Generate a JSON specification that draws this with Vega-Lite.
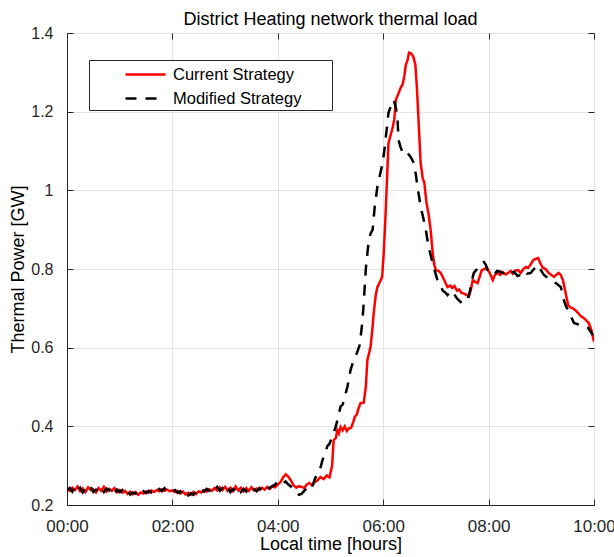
{
  "$schema": "https://vega.github.io/schema/vega-lite/v6.json",
  "autosize": "none",
  "padding": {"left": 67, "top": 33, "right": 20, "bottom": 52},
  "width": 527,
  "height": 472,
  "background": "white",
  "config": {
    "view": {"stroke": "#262626", "strokeWidth": 1},
    "font": "Liberation Sans",
    "axis": {"labelFont": "Liberation Sans", "titleFont": "Liberation Sans", "labelColor": "#262626", "titleColor": "#000000", "titleFontWeight": "normal", "domainColor": "#262626", "tickColor": "#262626", "gridColor": "#e3e3e3", "gridWidth": 1}
  },
  "title": {"text": "District Heating network thermal load", "fontSize": 18, "font": "Liberation Sans", "fontWeight": "normal", "color": "#000000", "anchor": "middle", "offset": -4},
  "datasets": {
    "d": [
      {"t":0.00,"s":"c","v":0.240},{"t":0.05,"s":"c","v":0.236},{"t":0.10,"s":"c","v":0.244},{"t":0.15,"s":"c","v":0.238},{"t":0.20,"s":"c","v":0.247},{"t":0.25,"s":"c","v":0.235},{"t":0.30,"s":"c","v":0.242},{"t":0.35,"s":"c","v":0.233},{"t":0.40,"s":"c","v":0.245},{"t":0.45,"s":"c","v":0.238},
      {"t":0.50,"s":"c","v":0.240},{"t":0.55,"s":"c","v":0.232},{"t":0.60,"s":"c","v":0.243},{"t":0.65,"s":"c","v":0.236},{"t":0.70,"s":"c","v":0.246},{"t":0.75,"s":"c","v":0.234},{"t":0.80,"s":"c","v":0.241},{"t":0.85,"s":"c","v":0.236},{"t":0.90,"s":"c","v":0.243},{"t":0.95,"s":"c","v":0.232},
      {"t":1.00,"s":"c","v":0.238},{"t":1.05,"s":"c","v":0.231},{"t":1.10,"s":"c","v":0.236},{"t":1.15,"s":"c","v":0.228},{"t":1.20,"s":"c","v":0.234},{"t":1.25,"s":"c","v":0.227},{"t":1.30,"s":"c","v":0.233},{"t":1.35,"s":"c","v":0.226},{"t":1.40,"s":"c","v":0.232},{"t":1.45,"s":"c","v":0.229},
      {"t":1.50,"s":"c","v":0.235},{"t":1.55,"s":"c","v":0.231},{"t":1.60,"s":"c","v":0.237},{"t":1.65,"s":"c","v":0.233},{"t":1.70,"s":"c","v":0.238},{"t":1.75,"s":"c","v":0.235},{"t":1.80,"s":"c","v":0.240},{"t":1.85,"s":"c","v":0.236},{"t":1.90,"s":"c","v":0.239},{"t":1.95,"s":"c","v":0.235},
      {"t":2.00,"s":"c","v":0.237},{"t":2.05,"s":"c","v":0.233},{"t":2.10,"s":"c","v":0.236},{"t":2.15,"s":"c","v":0.229},{"t":2.20,"s":"c","v":0.234},{"t":2.25,"s":"c","v":0.227},{"t":2.30,"s":"c","v":0.231},{"t":2.35,"s":"c","v":0.226},{"t":2.40,"s":"c","v":0.233},{"t":2.45,"s":"c","v":0.228},
      {"t":2.50,"s":"c","v":0.235},{"t":2.55,"s":"c","v":0.232},{"t":2.60,"s":"c","v":0.238},{"t":2.65,"s":"c","v":0.234},{"t":2.70,"s":"c","v":0.240},{"t":2.75,"s":"c","v":0.236},{"t":2.80,"s":"c","v":0.243},{"t":2.85,"s":"c","v":0.237},{"t":2.90,"s":"c","v":0.245},{"t":2.95,"s":"c","v":0.238},
      {"t":3.00,"s":"c","v":0.246},{"t":3.05,"s":"c","v":0.236},{"t":3.10,"s":"c","v":0.244},{"t":3.15,"s":"c","v":0.235},{"t":3.20,"s":"c","v":0.247},{"t":3.25,"s":"c","v":0.237},{"t":3.30,"s":"c","v":0.244},{"t":3.35,"s":"c","v":0.235},{"t":3.40,"s":"c","v":0.243},{"t":3.45,"s":"c","v":0.236},
      {"t":3.50,"s":"c","v":0.245},{"t":3.55,"s":"c","v":0.237},{"t":3.60,"s":"c","v":0.242},{"t":3.65,"s":"c","v":0.238},{"t":3.70,"s":"c","v":0.244},{"t":3.75,"s":"c","v":0.239},{"t":3.80,"s":"c","v":0.246},{"t":3.85,"s":"c","v":0.241},{"t":3.90,"s":"c","v":0.248},{"t":3.95,"s":"c","v":0.245},
      {"t":4.00,"s":"c","v":0.252},{"t":4.05,"s":"c","v":0.258},{"t":4.10,"s":"c","v":0.270},{"t":4.15,"s":"c","v":0.278},{"t":4.20,"s":"c","v":0.272},{"t":4.25,"s":"c","v":0.262},{"t":4.30,"s":"c","v":0.250},{"t":4.35,"s":"c","v":0.244},{"t":4.40,"s":"c","v":0.248},
      {"t":4.45,"s":"c","v":0.246},{"t":4.50,"s":"c","v":0.243},{"t":4.55,"s":"c","v":0.252},{"t":4.60,"s":"c","v":0.256},{"t":4.65,"s":"c","v":0.250},{"t":4.70,"s":"c","v":0.258},{"t":4.75,"s":"c","v":0.262},{"t":4.81,"s":"c","v":0.271},{"t":4.87,"s":"c","v":0.266},{"t":4.93,"s":"c","v":0.275},
      {"t":4.98,"s":"c","v":0.270},{"t":5.03,"s":"c","v":0.300},{"t":5.06,"s":"c","v":0.365},{"t":5.10,"s":"c","v":0.370},{"t":5.13,"s":"c","v":0.390},{"t":5.16,"s":"c","v":0.382},{"t":5.19,"s":"c","v":0.398},{"t":5.23,"s":"c","v":0.390},{"t":5.27,"s":"c","v":0.400},{"t":5.31,"s":"c","v":0.388},
      {"t":5.35,"s":"c","v":0.395},{"t":5.39,"s":"c","v":0.396},{"t":5.43,"s":"c","v":0.410},{"t":5.46,"s":"c","v":0.424},{"t":5.50,"s":"c","v":0.430},{"t":5.53,"s":"c","v":0.445},{"t":5.57,"s":"c","v":0.459},{"t":5.63,"s":"c","v":0.460},{"t":5.67,"s":"c","v":0.500},{"t":5.70,"s":"c","v":0.569},
      {"t":5.73,"s":"c","v":0.585},{"t":5.76,"s":"c","v":0.602},{"t":5.79,"s":"c","v":0.640},{"t":5.82,"s":"c","v":0.688},{"t":5.86,"s":"c","v":0.735},{"t":5.89,"s":"c","v":0.754},{"t":5.94,"s":"c","v":0.768},{"t":5.98,"s":"c","v":0.780},{"t":6.01,"s":"c","v":0.840},{"t":6.04,"s":"c","v":0.925},
      {"t":6.07,"s":"c","v":1.020},{"t":6.10,"s":"c","v":1.120},{"t":6.14,"s":"c","v":1.140},{"t":6.18,"s":"c","v":1.160},{"t":6.21,"s":"c","v":1.180},{"t":6.24,"s":"c","v":1.230},{"t":6.27,"s":"c","v":1.240},{"t":6.30,"s":"c","v":1.250},{"t":6.33,"s":"c","v":1.260},{"t":6.37,"s":"c","v":1.270},
      {"t":6.40,"s":"c","v":1.290},{"t":6.43,"s":"c","v":1.320},{"t":6.46,"s":"c","v":1.330},{"t":6.49,"s":"c","v":1.350},{"t":6.53,"s":"c","v":1.348},{"t":6.57,"s":"c","v":1.340},{"t":6.61,"s":"c","v":1.320},{"t":6.64,"s":"c","v":1.260},{"t":6.67,"s":"c","v":1.180},{"t":6.71,"s":"c","v":1.070},
      {"t":6.75,"s":"c","v":1.030},{"t":6.78,"s":"c","v":1.020},{"t":6.82,"s":"c","v":0.970},{"t":6.86,"s":"c","v":0.940},{"t":6.90,"s":"c","v":0.900},{"t":6.94,"s":"c","v":0.840},{"t":6.97,"s":"c","v":0.810},{"t":7.00,"s":"c","v":0.797},{"t":7.05,"s":"c","v":0.795},{"t":7.09,"s":"c","v":0.790},
      {"t":7.13,"s":"c","v":0.780},{"t":7.18,"s":"c","v":0.765},{"t":7.22,"s":"c","v":0.754},{"t":7.27,"s":"c","v":0.758},{"t":7.31,"s":"c","v":0.752},{"t":7.35,"s":"c","v":0.757},{"t":7.40,"s":"c","v":0.745},{"t":7.44,"s":"c","v":0.748},{"t":7.48,"s":"c","v":0.740},{"t":7.52,"s":"c","v":0.738},
      {"t":7.57,"s":"c","v":0.735},{"t":7.62,"s":"c","v":0.730},{"t":7.66,"s":"c","v":0.745},{"t":7.70,"s":"c","v":0.772},{"t":7.74,"s":"c","v":0.768},{"t":7.79,"s":"c","v":0.764},{"t":7.83,"s":"c","v":0.780},{"t":7.87,"s":"c","v":0.797},{"t":7.92,"s":"c","v":0.800},{"t":7.97,"s":"c","v":0.803},
      {"t":8.02,"s":"c","v":0.790},{"t":8.08,"s":"c","v":0.772},{"t":8.12,"s":"c","v":0.785},{"t":8.17,"s":"c","v":0.790},{"t":8.22,"s":"c","v":0.785},{"t":8.27,"s":"c","v":0.792},{"t":8.32,"s":"c","v":0.786},{"t":8.37,"s":"c","v":0.790},{"t":8.42,"s":"c","v":0.795},{"t":8.46,"s":"c","v":0.788},
      {"t":8.51,"s":"c","v":0.796},{"t":8.56,"s":"c","v":0.797},{"t":8.61,"s":"c","v":0.790},{"t":8.66,"s":"c","v":0.800},{"t":8.71,"s":"c","v":0.805},{"t":8.75,"s":"c","v":0.803},{"t":8.80,"s":"c","v":0.812},{"t":8.85,"s":"c","v":0.823},{"t":8.90,"s":"c","v":0.826},{"t":8.94,"s":"c","v":0.828},
      {"t":8.98,"s":"c","v":0.815},{"t":9.03,"s":"c","v":0.803},{"t":9.08,"s":"c","v":0.800},{"t":9.14,"s":"c","v":0.790},{"t":9.19,"s":"c","v":0.785},{"t":9.24,"s":"c","v":0.780},{"t":9.28,"s":"c","v":0.785},{"t":9.33,"s":"c","v":0.790},{"t":9.37,"s":"c","v":0.785},{"t":9.41,"s":"c","v":0.772},
      {"t":9.46,"s":"c","v":0.740},{"t":9.51,"s":"c","v":0.708},{"t":9.56,"s":"c","v":0.702},{"t":9.60,"s":"c","v":0.700},{"t":9.65,"s":"c","v":0.695},{"t":9.70,"s":"c","v":0.688},{"t":9.75,"s":"c","v":0.680},{"t":9.81,"s":"c","v":0.675},{"t":9.86,"s":"c","v":0.668},{"t":9.90,"s":"c","v":0.663},
      {"t":9.95,"s":"c","v":0.645},{"t":10.0,"s":"c","v":0.615},
      {"t":0.00,"s":"m","v":0.238},{"t":0.05,"s":"m","v":0.243},{"t":0.10,"s":"m","v":0.234},{"t":0.15,"s":"m","v":0.246},{"t":0.20,"s":"m","v":0.236},{"t":0.25,"s":"m","v":0.244},{"t":0.30,"s":"m","v":0.232},{"t":0.35,"s":"m","v":0.241},{"t":0.40,"s":"m","v":0.236},{"t":0.45,"s":"m","v":0.246},
      {"t":0.50,"s":"m","v":0.233},{"t":0.55,"s":"m","v":0.239},{"t":0.60,"s":"m","v":0.236},{"t":0.65,"s":"m","v":0.245},{"t":0.70,"s":"m","v":0.233},{"t":0.75,"s":"m","v":0.242},{"t":0.80,"s":"m","v":0.237},{"t":0.85,"s":"m","v":0.244},{"t":0.90,"s":"m","v":0.231},{"t":0.95,"s":"m","v":0.239},
      {"t":1.00,"s":"m","v":0.233},{"t":1.05,"s":"m","v":0.238},{"t":1.10,"s":"m","v":0.228},{"t":1.15,"s":"m","v":0.235},{"t":1.20,"s":"m","v":0.226},{"t":1.25,"s":"m","v":0.232},{"t":1.30,"s":"m","v":0.229},{"t":1.35,"s":"m","v":0.234},{"t":1.40,"s":"m","v":0.227},{"t":1.45,"s":"m","v":0.235},
      {"t":1.50,"s":"m","v":0.230},{"t":1.55,"s":"m","v":0.236},{"t":1.60,"s":"m","v":0.232},{"t":1.65,"s":"m","v":0.239},{"t":1.70,"s":"m","v":0.234},{"t":1.75,"s":"m","v":0.241},{"t":1.80,"s":"m","v":0.235},{"t":1.85,"s":"m","v":0.243},{"t":1.90,"s":"m","v":0.236},{"t":1.95,"s":"m","v":0.239},
      {"t":2.00,"s":"m","v":0.234},{"t":2.05,"s":"m","v":0.238},{"t":2.10,"s":"m","v":0.231},{"t":2.15,"s":"m","v":0.235},{"t":2.20,"s":"m","v":0.226},{"t":2.25,"s":"m","v":0.232},{"t":2.30,"s":"m","v":0.224},{"t":2.35,"s":"m","v":0.230},{"t":2.40,"s":"m","v":0.226},{"t":2.45,"s":"m","v":0.235},
      {"t":2.50,"s":"m","v":0.231},{"t":2.55,"s":"m","v":0.239},{"t":2.60,"s":"m","v":0.234},{"t":2.65,"s":"m","v":0.241},{"t":2.70,"s":"m","v":0.236},{"t":2.75,"s":"m","v":0.244},{"t":2.80,"s":"m","v":0.237},{"t":2.85,"s":"m","v":0.246},{"t":2.90,"s":"m","v":0.236},{"t":2.95,"s":"m","v":0.243},
      {"t":3.00,"s":"m","v":0.235},{"t":3.05,"s":"m","v":0.244},{"t":3.10,"s":"m","v":0.233},{"t":3.15,"s":"m","v":0.241},{"t":3.20,"s":"m","v":0.236},{"t":3.25,"s":"m","v":0.245},{"t":3.30,"s":"m","v":0.233},{"t":3.35,"s":"m","v":0.241},{"t":3.40,"s":"m","v":0.234},{"t":3.45,"s":"m","v":0.243},
      {"t":3.50,"s":"m","v":0.235},{"t":3.55,"s":"m","v":0.240},{"t":3.60,"s":"m","v":0.235},{"t":3.65,"s":"m","v":0.243},{"t":3.70,"s":"m","v":0.237},{"t":3.75,"s":"m","v":0.245},{"t":3.80,"s":"m","v":0.240},{"t":3.85,"s":"m","v":0.244},{"t":3.90,"s":"m","v":0.248},{"t":3.95,"s":"m","v":0.252},
      {"t":4.00,"s":"m","v":0.260},{"t":4.05,"s":"m","v":0.262},{"t":4.10,"s":"m","v":0.255},{"t":4.15,"s":"m","v":0.260},{"t":4.20,"s":"m","v":0.252},{"t":4.25,"s":"m","v":0.247},{"t":4.30,"s":"m","v":0.240},{"t":4.35,"s":"m","v":0.232},{"t":4.40,"s":"m","v":0.226},
      {"t":4.45,"s":"m","v":0.228},{"t":4.50,"s":"m","v":0.236},{"t":4.55,"s":"m","v":0.242},{"t":4.60,"s":"m","v":0.250},{"t":4.65,"s":"m","v":0.245},{"t":4.70,"s":"m","v":0.265},{"t":4.75,"s":"m","v":0.280},{"t":4.80,"s":"m","v":0.290},{"t":4.85,"s":"m","v":0.315},{"t":4.90,"s":"m","v":0.330},
      {"t":4.94,"s":"m","v":0.350},{"t":4.98,"s":"m","v":0.355},{"t":5.02,"s":"m","v":0.370},{"t":5.06,"s":"m","v":0.383},{"t":5.10,"s":"m","v":0.400},{"t":5.14,"s":"m","v":0.420},{"t":5.19,"s":"m","v":0.450},{"t":5.23,"s":"m","v":0.455},{"t":5.27,"s":"m","v":0.475},{"t":5.32,"s":"m","v":0.500},
      {"t":5.35,"s":"m","v":0.520},{"t":5.38,"s":"m","v":0.543},{"t":5.42,"s":"m","v":0.560},{"t":5.47,"s":"m","v":0.575},{"t":5.51,"s":"m","v":0.590},{"t":5.55,"s":"m","v":0.605},{"t":5.57,"s":"m","v":0.625},{"t":5.60,"s":"m","v":0.660},{"t":5.63,"s":"m","v":0.713},{"t":5.67,"s":"m","v":0.800},
      {"t":5.70,"s":"m","v":0.840},{"t":5.72,"s":"m","v":0.866},{"t":5.76,"s":"m","v":0.890},{"t":5.80,"s":"m","v":0.900},{"t":5.84,"s":"m","v":0.960},{"t":5.89,"s":"m","v":1.009},{"t":5.94,"s":"m","v":1.040},{"t":5.99,"s":"m","v":1.070},{"t":6.02,"s":"m","v":1.100},{"t":6.05,"s":"m","v":1.136},
      {"t":6.08,"s":"m","v":1.170},{"t":6.10,"s":"m","v":1.197},{"t":6.15,"s":"m","v":1.215},{"t":6.20,"s":"m","v":1.230},{"t":6.24,"s":"m","v":1.210},{"t":6.27,"s":"m","v":1.187},{"t":6.29,"s":"m","v":1.128},{"t":6.33,"s":"m","v":1.110},{"t":6.37,"s":"m","v":1.095},{"t":6.42,"s":"m","v":1.100},
      {"t":6.46,"s":"m","v":1.095},{"t":6.52,"s":"m","v":1.085},{"t":6.58,"s":"m","v":1.070},{"t":6.62,"s":"m","v":1.040},{"t":6.65,"s":"m","v":1.009},{"t":6.68,"s":"m","v":0.985},{"t":6.71,"s":"m","v":0.958},{"t":6.76,"s":"m","v":0.930},{"t":6.81,"s":"m","v":0.899},{"t":6.86,"s":"m","v":0.857},
      {"t":6.91,"s":"m","v":0.830},{"t":6.96,"s":"m","v":0.805},{"t":7.00,"s":"m","v":0.785},{"t":7.03,"s":"m","v":0.772},{"t":7.08,"s":"m","v":0.760},{"t":7.13,"s":"m","v":0.745},{"t":7.18,"s":"m","v":0.740},{"t":7.22,"s":"m","v":0.734},{"t":7.28,"s":"m","v":0.745},{"t":7.34,"s":"m","v":0.737},
      {"t":7.40,"s":"m","v":0.725},{"t":7.47,"s":"m","v":0.716},{"t":7.53,"s":"m","v":0.722},{"t":7.60,"s":"m","v":0.720},{"t":7.64,"s":"m","v":0.740},{"t":7.68,"s":"m","v":0.770},{"t":7.72,"s":"m","v":0.790},{"t":7.78,"s":"m","v":0.800},{"t":7.85,"s":"m","v":0.815},{"t":7.91,"s":"m","v":0.818},
      {"t":7.95,"s":"m","v":0.810},{"t":7.98,"s":"m","v":0.797},{"t":8.04,"s":"m","v":0.790},{"t":8.10,"s":"m","v":0.785},{"t":8.16,"s":"m","v":0.795},{"t":8.23,"s":"m","v":0.793},{"t":8.30,"s":"m","v":0.788},{"t":8.36,"s":"m","v":0.795},{"t":8.42,"s":"m","v":0.790},{"t":8.48,"s":"m","v":0.793},
      {"t":8.55,"s":"m","v":0.782},{"t":8.61,"s":"m","v":0.785},{"t":8.67,"s":"m","v":0.795},{"t":8.73,"s":"m","v":0.788},{"t":8.80,"s":"m","v":0.790},{"t":8.86,"s":"m","v":0.800},{"t":8.94,"s":"m","v":0.810},{"t":9.00,"s":"m","v":0.795},{"t":9.05,"s":"m","v":0.785},{"t":9.12,"s":"m","v":0.778},
      {"t":9.18,"s":"m","v":0.772},{"t":9.24,"s":"m","v":0.767},{"t":9.30,"s":"m","v":0.762},{"t":9.37,"s":"m","v":0.754},{"t":9.40,"s":"m","v":0.740},{"t":9.43,"s":"m","v":0.720},{"t":9.47,"s":"m","v":0.705},{"t":9.51,"s":"m","v":0.696},{"t":9.56,"s":"m","v":0.680},{"t":9.62,"s":"m","v":0.663},
      {"t":9.68,"s":"m","v":0.660},{"t":9.75,"s":"m","v":0.658},{"t":9.82,"s":"m","v":0.655},{"t":9.89,"s":"m","v":0.650},{"t":9.94,"s":"m","v":0.640},{"t":9.98,"s":"m","v":0.632}
    ]
  },
  "data": {"name": "d"},
  "layer": [
    {
      "mark": {"type": "line", "strokeWidth": 2.5, "clip": true},
      "encoding": {
        "x": {"field": "t", "type": "quantitative", "scale": {"domain": [0, 10], "nice": false, "zero": false},
          "axis": {"orient": "bottom", "title": "Local time [hours]", "values": [0, 2, 4, 6, 8, 10], "labelExpr": "(datum.value < 10 ? '0' : '') + datum.value + ':00'", "labelFontSize": 17, "titleFontSize": 18, "tickSize": -6, "labelPadding": 19, "titlePadding": 1, "grid": true, "labelFlush": false}},
        "y": {"field": "v", "type": "quantitative", "scale": {"domain": [0.2, 1.4], "nice": false, "zero": false},
          "axis": {"orient": "left", "title": "Thermal Power [GW]", "values": [0.2, 0.4, 0.6, 0.8, 1.0, 1.2, 1.4], "format": ".1~f", "labelFontSize": 16, "titleFontSize": 18, "tickSize": -6, "labelPadding": 20, "titlePadding": 3, "grid": true}},
        "color": {"field": "s", "type": "nominal", "scale": {"domain": ["c", "m"], "range": ["#ff0000", "#000000"]},
          "legend": {"orient": "none", "legendX": 22, "legendY": 27, "title": null, "symbolType": "M-2,0H2", "symbolSize": 400, "symbolStrokeWidth": 2.5, "labelFont": "Liberation Sans", "labelFontSize": 16.5, "labelColor": "#000000", "strokeColor": "#262626", "fillColor": "white", "padding": 3, "rowPadding": 4, "symbolOffset": 42, "labelOffset": 16, "labelLimit": 400,
            "labelExpr": "datum.value == 'c' ? 'Current Strategy\u00a0\u00a0\u00a0\u00a0\u00a0\u00a0\u200b' : 'Modified Strategy\u00a0\u00a0\u00a0\u00a0\u00a0\u00a0\u200b'"}},
        "strokeDash": {"field": "s", "type": "nominal", "scale": {"domain": ["c", "m"], "range": [[1, 0], [11, 9]]}, "legend": null}
      }
    },
    {
      "mark": {"type": "point", "opacity": 0},
      "encoding": {
        "x": {"field": "t", "type": "quantitative", "axis": {"orient": "top", "title": null, "labels": false, "grid": false, "domain": false, "values": [0, 2, 4, 6, 8, 10], "tickSize": -6}},
        "y": {"field": "v", "type": "quantitative", "axis": {"orient": "right", "title": null, "labels": false, "grid": false, "domain": false, "values": [0.2, 0.4, 0.6, 0.8, 1.0, 1.2, 1.4], "tickSize": -6}}
      }
    }
  ],
  "resolve": {"axis": {"x": "independent", "y": "independent"}}
}
